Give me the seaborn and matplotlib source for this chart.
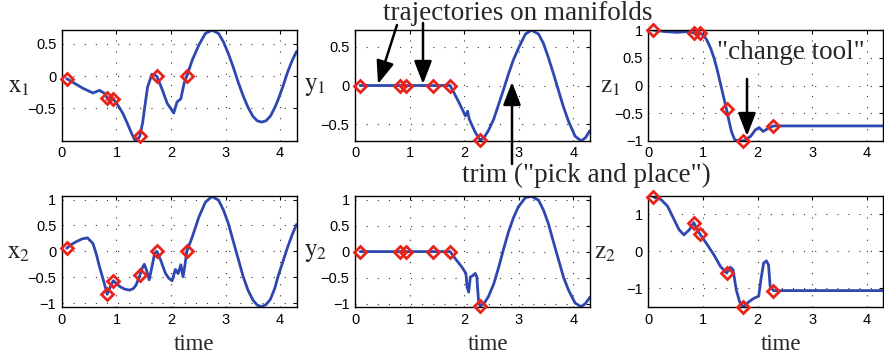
import matplotlib
matplotlib.use("Agg")

import matplotlib.pyplot as plt
from matplotlib.patches import FancyArrowPatch
import seaborn as sns

# Marker (waypoint) times shared by all panels
t_marks = [0.09, 0.83, 0.94, 1.43, 1.74, 2.29]

# x1
t_x1 = [0.09, 0.25, 0.39, 0.57, 0.69, 0.79, 0.83, 0.94, 1.05, 1.12, 1.2, 1.27, 1.36,
        1.43, 1.48, 1.51, 1.57, 1.65, 1.74, 1.84, 1.93, 2.05, 2.11, 2.18, 2.24, 2.29,
        2.39, 2.51, 2.63, 2.75, 2.87, 2.96, 3.05, 3.14, 3.23, 3.32, 3.41, 3.5, 3.58,
        3.66, 3.74, 3.82, 3.9, 3.96, 4.05, 4.14, 4.22, 4.3]
x1_vals = [-0.04, -0.12, -0.19, -0.26, -0.22, -0.27, -0.34, -0.35, -0.48, -0.58, -0.73,
           -0.87, -1.03, -0.92, -0.72, -0.53, -0.17, 0.03, 0.0, -0.21, -0.42, -0.57,
           -0.40, -0.35, -0.11, 0.0, 0.25, 0.48, 0.66, 0.71, 0.66, 0.53, 0.35, 0.14,
           -0.09, -0.30, -0.48, -0.62, -0.69, -0.71, -0.69, -0.62, -0.49, -0.37, -0.16,
           0.07, 0.24, 0.38]
x1_marks = [-0.04, -0.34, -0.35, -0.92, 0.0, 0.0]

# y1
t_y1 = [0.09, 0.83, 0.94, 1.43, 1.74, 1.89, 2.02, 2.06, 2.09, 2.2, 2.29, 2.36, 2.44,
        2.54, 2.63, 2.72, 2.81, 2.9, 3.0, 3.12, 3.23, 3.36, 3.45, 3.54, 3.63, 3.72,
        3.81, 3.91, 4.03, 4.14, 4.22, 4.3]
y1_vals = [0, 0, 0, 0, 0, -0.2, -0.39, -0.33, -0.43, -0.6, -0.70, -0.67, -0.58, -0.43,
           -0.24, -0.05, 0.15, 0.33, 0.49, 0.66, 0.71, 0.66, 0.54, 0.36, 0.16, -0.05,
           -0.26, -0.46, -0.65, -0.71, -0.67, -0.58]
y1_marks = [0, 0, 0, 0, 0, -0.70]

# z1
t_z1 = [0.09, 0.29, 0.53, 0.72, 0.83, 0.94, 1.02, 1.08, 1.14, 1.2, 1.26, 1.32, 1.38,
        1.43, 1.48, 1.52, 1.58, 1.65, 1.74, 1.87, 1.96, 2.03, 2.1, 2.2, 2.29, 4.3]
z1_vals = [1.0, 0.975, 0.96, 0.975, 0.95, 0.95, 0.9, 0.8, 0.67, 0.5, 0.28, 0.03, -0.22,
           -0.43, -0.66, -0.83, -0.98, -1.0, -1.0, -0.92, -0.8, -0.76, -0.83, -0.77,
           -0.73, -0.73]
z1_marks = [1.0, 0.95, 0.95, -0.43, -1.0, -0.73]

# x2
t_x2 = [0.09, 0.17, 0.27, 0.37, 0.47, 0.57, 0.63, 0.69, 0.75, 0.79, 0.83, 0.89, 0.94,
        1.0, 1.06, 1.15, 1.24, 1.31, 1.36, 1.43, 1.47, 1.51, 1.55, 1.6, 1.65, 1.7,
        1.74, 1.81, 1.9, 1.96, 2.02, 2.08, 2.13, 2.18, 2.22, 2.25, 2.29, 2.39, 2.51,
        2.63, 2.75, 2.87, 2.96, 3.05, 3.14, 3.23, 3.32, 3.41, 3.5, 3.58, 3.66, 3.74,
        3.82, 3.9, 3.96, 4.05, 4.14, 4.22, 4.3]
x2_vals = [0.06, 0.13, 0.19, 0.24, 0.26, 0.15, -0.05, -0.3, -0.52, -0.67, -0.83, -0.68,
           -0.57, -0.62, -0.68, -0.73, -0.75, -0.72, -0.65, -0.46, -0.33, -0.25, -0.36,
           -0.55, -0.3, -0.04, 0.0, -0.17, -0.43, -0.52, -0.57, -0.35, -0.43, -0.26,
           -0.49, -0.3, 0.0, 0.28, 0.66, 0.95, 1.06, 0.99, 0.8, 0.54, 0.2, -0.14, -0.48,
           -0.75, -0.94, -1.04, -1.07, -1.03, -0.93, -0.72, -0.49, -0.2, 0.09, 0.32, 0.52]
x2_marks = [0.06, -0.83, -0.57, -0.46, 0.0, 0.0]

# y2
t_y2 = [0.09, 0.83, 0.94, 1.43, 1.74, 1.83, 1.95, 2.03, 2.05, 2.08, 2.11, 2.16, 2.2,
        2.23, 2.26, 2.29, 2.36, 2.44, 2.54, 2.63, 2.72, 2.81, 2.9, 2.99, 3.12, 3.23,
        3.36, 3.45, 3.54, 3.63, 3.73, 3.82, 3.91, 4.03, 4.14, 4.22, 4.3]
y2_vals = [0, 0, 0, 0, 0, -0.13, -0.29, -0.42, -0.68, -0.78, -0.49, -0.46, -0.42,
           -0.49, -0.94, -1.05, -1.0, -0.87, -0.62, -0.3, 0.05, 0.38, 0.65, 0.86, 1.04,
           1.06, 0.99, 0.8, 0.54, 0.2, -0.17, -0.5, -0.74, -0.99, -1.06, -1.0, -0.88]
y2_marks = [0, 0, 0, 0, 0, -1.05]

# z2
t_z2 = [0.09, 0.23, 0.35, 0.47, 0.56, 0.65, 0.75, 0.83, 0.88, 0.94, 1.08, 1.2, 1.32,
        1.43, 1.5, 1.55, 1.61, 1.67, 1.74, 1.84, 1.93, 2.02, 2.06, 2.11, 2.16, 2.2,
        2.23, 2.29, 4.3]
z2_vals = [1.46, 1.39, 1.21, 0.85, 0.58, 0.44, 0.58, 0.77, 0.62, 0.47, 0.17, -0.1,
           -0.41, -0.59, -0.43, -0.5, -1.05, -1.36, -1.5, -1.36, -1.27, -1.21, -0.77,
           -0.32, -0.26, -0.37, -0.95, -1.06, -1.06]
z2_marks = [1.46, 0.77, 0.47, -0.59, -1.5, -1.06]

panels = [
    ("x", "1", t_x1, x1_vals, x1_marks, (-1.0, 0.71), [-0.5, 0, 0.5], -0.183),
    ("y", "1", t_y1, y1_vals, y1_marks, (-0.71, 0.71), [-0.5, 0, 0.5], -0.172),
    ("z", "1", t_z1, z1_vals, z1_marks, (-1.0, 1.0), [-1, -0.5, 0, 0.5, 1], -0.164),
    ("x", "2", t_x2, x2_vals, x2_marks, (-1.075, 1.065), [-1, -0.5, 0, 0.5, 1], -0.183),
    ("y", "2", t_y2, y2_vals, y2_marks, (-1.065, 1.065), [-1, -0.5, 0, 0.5, 1], -0.17),
    ("z", "2", t_z2, z2_vals, z2_marks, (-1.5, 1.48), [-1, 0, 1], -0.185),
]

sns.set_style("white")
plt.rcParams["font.family"] = ["Liberation Sans", "DejaVu Sans"]
plt.rcParams["mathtext.fontset"] = "stix"
plt.rcParams["axes.unicode_minus"] = True

fig, axes = plt.subplots(2, 3, figsize=(8.84, 3.59), dpi=100)
fig.subplots_adjust(left=0.070, right=0.999, bottom=0.145, top=0.916,
                    wspace=0.25, hspace=0.5)

line_color = "#2f47b0"
serif = ["Liberation Serif", "DejaVu Serif"]

for ax, (var, idx, t, vals, marks, ylim, yticks, lab_x) in zip(axes.flat, panels):
    sns.lineplot(x=t, y=vals, ax=ax, color=line_color, lw=2.0,
                 sort=False, estimator=None, zorder=2)
    sns.lineplot(x=t_marks, y=marks, ax=ax, marker="D", linestyle="",
                 markersize=6, markerfacecolor="none", markeredgecolor="#e8231b",
                 markeredgewidth=2.0, estimator=None, clip_on=False, zorder=3)

    ax.set_xlim(0, 4.3)
    ax.set_ylim(*ylim)
    ax.set_xticks([0, 1, 2, 3, 4])
    ax.set_yticks(yticks)
    ax.set_yticklabels([f"{v:g}".replace("-", "\u2212") for v in yticks])
    ax.tick_params(direction="in", length=3, width=0.8, top=True, right=True,
                   labelsize=10.5, pad=4, colors="black")
    ax.grid(True, color="black", linestyle=(0, (1, 9)), linewidth=0.8, alpha=0.8)
    for s in ax.spines.values():
        s.set_visible(True)
        s.set_color("black")
        s.set_linewidth(1.0)

    ax.set_ylabel(r"$\mathrm{%s}_{%s}$" % (var, idx), rotation=0, fontsize=18,
                  va="center", ha="center")
    ax.yaxis.set_label_coords(lab_x, 0.5)
    if idx == "2":
        ax.set_xlabel("time", fontsize=16.5, family=serif, va="center")
        ax.xaxis.set_label_coords(0.565, -0.34)
    else:
        ax.set_xlabel("")


def fpos(px, py):
    return (px / 884, 1 - py / 359)


text_kw = dict(fontsize=19.5, family=serif, ha="left", va="baseline")
fig.text(*fpos(383, 20), "trajectories on manifolds", **text_kw)
fig.text(*fpos(462, 182), 'trim ("pick and place")', **text_kw)
fig.text(*fpos(717, 59), '"change tool"', **text_kw)

# annotation arrows, drawn on top of all axes
arrows = [
    ((397, 25), (378, 84)),
    ((423, 23), (423, 84)),
    ((512, 164), (512, 82)),
    ((747, 79), (747, 136)),
]
for tail, tip in arrows:
    arr = FancyArrowPatch(fpos(*tail), fpos(*tip), transform=fig.transFigure,
                          arrowstyle="-|>,head_length=0.7,head_width=0.27",
                          mutation_scale=20, lw=1.8, color="black",
                          shrinkA=0, shrinkB=0, zorder=10)
    fig.add_artist(arr)

fig.savefig("out.png", dpi=100)
